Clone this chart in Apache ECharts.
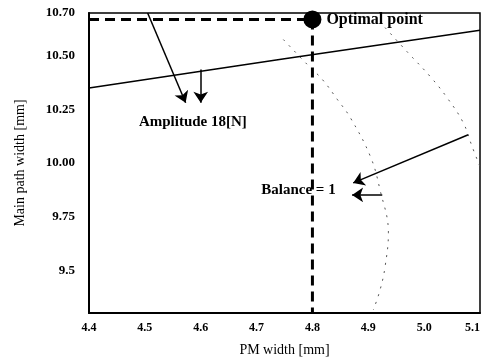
<!DOCTYPE html>
<html>
<head>
<meta charset="utf-8">
<script src="https://cdn.jsdelivr.net/npm/echarts@6/dist/echarts.min.js"></script>
<style>html,body{margin:0;padding:0;background:#fff}#c{width:482px;height:359px}</style>
</head>
<body>
<div id="c"></div>
<script>
// ---- data ----
const xTickValues = [4.4, 4.5, 4.6, 4.7, 4.8, 4.9, 5.0, 5.1];
const yTickValues = [9.5, 9.75, 10.0, 10.25, 10.5, 10.7];
const yTickLabels = ['9.5', '9.75', '10.00', '10.25', '10.50', '10.70'];

const amplitudeX = [4.4, 4.75, 5.1];
const amplitudeY = [10.35, 10.487, 10.62];

const balanceInnerX = [4.748, 4.791, 4.818, 4.845, 4.868, 4.904, 4.921, 4.936, 4.930, 4.921, 4.909];
const balanceInnerY = [10.576, 10.459, 10.389, 10.295, 10.211, 10.029, 9.875, 9.674, 9.515, 9.407, 9.314];

const balanceOuterX = [4.930, 4.971, 5.011, 5.041, 5.070, 5.086, 5.100];
const balanceOuterY = [10.632, 10.515, 10.403, 10.305, 10.188, 10.076, 9.982];

const optimalX = 4.8;
const optimalY = 10.67;

const guideHX = [4.4, 4.8];
const guideHY = [10.67, 10.67];
const guideVX = [4.8, 4.8];
const guideVY = [10.67, 9.3];

const annoTexts = ['Amplitude 18[N]', 'Balance = 1'];
const annoX = [4.586, 4.775];
const annoY = [10.193, 9.875];

const arrowFromX = [4.505, 4.6, 5.079, 4.925];
const arrowFromY = [10.70, 10.436, 10.132, 9.851];
const arrowToX = [4.573, 4.6, 4.873, 4.871];
const arrowToY = [10.281, 10.281, 9.907, 9.851];

// ---- chart ----
const zip = (xs, ys) => xs.map((x, i) => [x, ys[i]]);
const font = 'Liberation Serif';
const chart = echarts.init(document.getElementById('c'));
chart.setOption({
  animation: false,
  backgroundColor: '#fff',
  grid: { left: 89, top: 13, right: 2, bottom: 46, outerBoundsMode: 'none', containLabel: false,
    show: true, borderColor: '#000', borderWidth: 1.5, backgroundColor: 'transparent' },
  xAxis: {
    type: 'value', min: 4.4, max: 5.1, interval: 0.1,
    name: 'PM width [mm]', nameLocation: 'middle', nameGap: 30,
    nameTextStyle: { fontFamily: font, fontSize: 14, color: '#000' },
    axisLine: { lineStyle: { color: '#000', width: 2 } },
    axisTick: { show: false }, splitLine: { show: false },
    axisLabel: { fontFamily: font, fontWeight: 'bold', fontSize: 12, color: '#000', margin: 9,
      alignMaxLabel: 'right',
      formatter: v => xTickValues.some(t => Math.abs(t - v) < 1e-6) ? v.toFixed(1) : '' }
  },
  yAxis: {
    type: 'value', min: 9.3, max: 10.7, interval: 0.05,
    name: 'Main path width [mm]', nameLocation: 'middle', nameGap: 62,
    nameTextStyle: { fontFamily: font, fontSize: 14, color: '#000' },
    axisLine: { lineStyle: { color: '#000', width: 2 } },
    axisTick: { show: false }, splitLine: { show: false },
    axisLabel: { fontFamily: font, fontWeight: 'bold', fontSize: 13, color: '#000', margin: 14,
      formatter: v => {
        const i = yTickValues.findIndex(t => Math.abs(t - v) < 1e-6);
        return i >= 0 ? yTickLabels[i] : '';
      } }
  },
  series: [
    { type: 'line', data: zip(amplitudeX, amplitudeY), showSymbol: false,
      lineStyle: { color: '#000', width: 1.5 } },
    { type: 'line', data: zip(balanceInnerX, balanceInnerY), showSymbol: false, smooth: 0.4,
      lineStyle: { color: '#555', width: 1, type: [2, 6] } },
    { type: 'line', data: zip(balanceOuterX, balanceOuterY), showSymbol: false, smooth: 0.4,
      lineStyle: { color: '#555', width: 1, type: [2, 6] } },
    { type: 'line', data: zip(guideHX, guideHY), showSymbol: false,
      lineStyle: { color: '#000', width: 3, type: [10, 6] } },
    { type: 'line', data: zip(guideVX, guideVY), showSymbol: false,
      lineStyle: { color: '#000', width: 3, type: [10, 6] } },
    { type: 'scatter', data: [[optimalX, optimalY]], symbolSize: 18,
      itemStyle: { color: '#000', opacity: 1 },
      label: { show: true, position: 'right', distance: 5, formatter: 'Optimal point',
        fontFamily: font, fontWeight: 'bold', fontSize: 16, color: '#000' } },
    { type: 'lines', coordinateSystem: 'cartesian2d',
      symbol: ['none', 'arrow'], symbolSize: 11,
      lineStyle: { color: '#000', width: 1.5, opacity: 1 },
      data: arrowFromX.map((x, i) => ({ coords: [[x, arrowFromY[i]], [arrowToX[i], arrowToY[i]]] })) },
    { type: 'scatter', symbolSize: 0,
      itemStyle: { opacity: 1 },
      data: annoX.map((x, i) => ({ value: [x, annoY[i]], name: annoTexts[i] })),
      label: { show: true, position: 'inside', formatter: p => p.name,
        fontFamily: font, fontWeight: 'bold', fontSize: 15, color: '#000' } }
  ]
});
</script>
</body>
</html>
